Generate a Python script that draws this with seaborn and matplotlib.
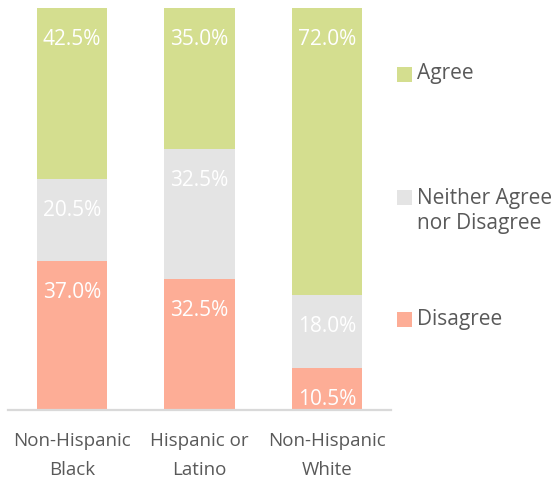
import matplotlib
matplotlib.use("Agg")
import matplotlib.pyplot as plt
from matplotlib.patches import Rectangle
import numpy as np
import pandas as pd
import seaborn as sns

# Survey responses by race / ethnicity (percent of respondents)
groups = ["Non-Hispanic\nBlack", "Hispanic or\nLatino", "Non-Hispanic\nWhite"]
disagree = [37.0, 32.5, 10.5]
neither = [20.5, 32.5, 18.0]
agree = [42.5, 35.0, 72.0]

colors = {"Agree": "#D4DE8F", "Neither": "#E4E4E4", "Disagree": "#FDAD96"}
text_gray = "#595959"

sns.set_theme(style="white")
plt.rcParams["font.family"] = ["Open Sans", "DejaVu Sans"]

df = pd.DataFrame({"group": groups, "Disagree": disagree,
                   "Neither": neither, "Agree": agree})
df["lvl1"] = df["Disagree"]
df["lvl2"] = df["lvl1"] + df["Neither"]
df["lvl3"] = df["lvl2"] + df["Agree"]

fig = plt.figure(figsize=(5.53, 4.80), dpi=100)
ax = fig.add_axes([8 / 553, 70 / 480, 383 / 553, 402 / 480])

# Stack by overdrawing cumulative totals, tallest first
for col, key in [("lvl3", "Agree"), ("lvl2", "Neither"), ("lvl1", "Disagree")]:
    sns.barplot(data=df, x="group", y=col, color=colors[key], width=0.55,
                saturation=1, ax=ax, linewidth=0, errorbar=None)

ax.set_xlim(-0.5, 2.5)
ax.set_ylim(0, 100)
ax.set_xlabel("")
ax.set_ylabel("")
ax.set_yticks([])
for s in ["top", "right", "left"]:
    ax.spines[s].set_visible(False)
ax.spines["bottom"].set_color("#D9D9D9")
ax.spines["bottom"].set_linewidth(1.6)
ax.tick_params(axis="x", length=0, pad=16, labelsize=13.5, labelcolor=text_gray)
for t in ax.get_xticklabels():
    t.set_linespacing(1.75)

# Value labels just inside the top of every segment
for i in range(len(groups)):
    for top, val in [(df["lvl1"][i], disagree[i]), (df["lvl2"][i], neither[i]),
                     (min(df["lvl3"][i], 100), agree[i])]:
        ax.annotate(f"{val:.1f}%", xy=(i, top), xytext=(0, -15),
                    textcoords="offset points", ha="center", va="top",
                    color="white", fontsize=15, annotation_clip=False)

# Legend entries placed beside the last bar
legend_items = [("Agree", colors["Agree"], 74, 74),
                ("Neither Agree\nnor Disagree", colors["Neither"], 211, 197),
                ("Disagree", colors["Disagree"], 319, 319)]
for label, c, ytext, ybox in legend_items:
    fig.patches.append(Rectangle((397 / 553, 1 - (ybox + 7.5) / 480),
                                 15 / 553, 15 / 480, transform=fig.transFigure,
                                 facecolor=c, edgecolor="none"))
    fig.text(417 / 553, 1 - ytext / 480, label, ha="left", va="center",
             color=text_gray, fontsize=15, linespacing=1.3)

fig.savefig("out.png", dpi=100)
